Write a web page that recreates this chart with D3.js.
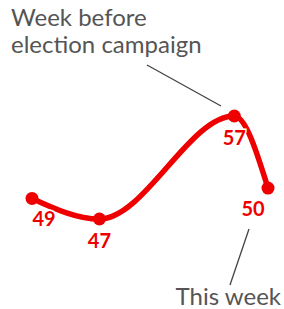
<!DOCTYPE html>
<html>
<head>
<meta charset="utf-8">
<script src="https://cdn.jsdelivr.net/npm/d3@7"></script>
<style>
  body { margin: 0; background: #fff; }
  svg { display: block; font-family: Lato, sans-serif; }
</style>
</head>
<body>
<svg width="284" height="309"></svg>
<script>
// poll data: week number and share
const weeks = [0, 2, 6, 7];
const values = [49, 47, 57, 50];
const labelDx = [12, 0, 0, -15];   // label nudges
const labelDy = [28, 29, 29, 28];

const svg = d3.select("svg");
const red = "#ee0000";

const x = d3.scaleLinear().domain([0, 7]).range([32, 268]);
const y = d3.scaleLinear().domain([47, 57]).range([219, 116]);

const data = weeks.map((w, i) => ({ w, v: values[i], i }));

// leader lines
svg.append("line")
  .attr("x1", 147).attr("y1", 65).attr("x2", 221).attr("y2", 106)
  .attr("stroke", "#444").attr("stroke-width", 1.3);
svg.append("line")
  .attr("x1", 249).attr("y1", 229).attr("x2", 230).attr("y2", 285)
  .attr("stroke", "#444").attr("stroke-width", 1.3);

const line = d3.line()
  .x(d => x(d.w))
  .y(d => y(d.v))
  .curve(d3.curveMonotoneX);

svg.append("path")
  .datum(data)
  .attr("d", line)
  .attr("fill", "none")
  .attr("stroke", red)
  .attr("stroke-width", 5.5)
  .attr("stroke-linecap", "round");

svg.selectAll("circle")
  .data(data)
  .join("circle")
  .attr("cx", d => x(d.w))
  .attr("cy", d => y(d.v))
  .attr("r", 6.5)
  .attr("fill", red);

svg.selectAll("text.val")
  .data(data)
  .join("text")
  .attr("class", "val")
  .attr("x", d => x(d.w) + labelDx[d.i])
  .attr("y", d => y(d.v) + labelDy[d.i])
  .attr("text-anchor", "middle")
  .attr("font-size", 20)
  .attr("font-weight", "bold")
  .attr("fill", red)
  .attr("stroke", "#fff")
  .attr("stroke-width", 3)
  .attr("paint-order", "stroke")
  .text(d => d.v);

// annotations
const note = svg.append("text")
  .attr("fill", "#555")
  .attr("font-size", 24);
note.append("tspan").attr("x", 11).attr("y", 26).text("Week before");
note.append("tspan").attr("x", 11).attr("y", 53).text("election campaign");

svg.append("text")
  .attr("x", 281).attr("y", 305)
  .attr("text-anchor", "end")
  .attr("fill", "#555")
  .attr("font-size", 24)
  .text("This week");
</script>
</body>
</html>
